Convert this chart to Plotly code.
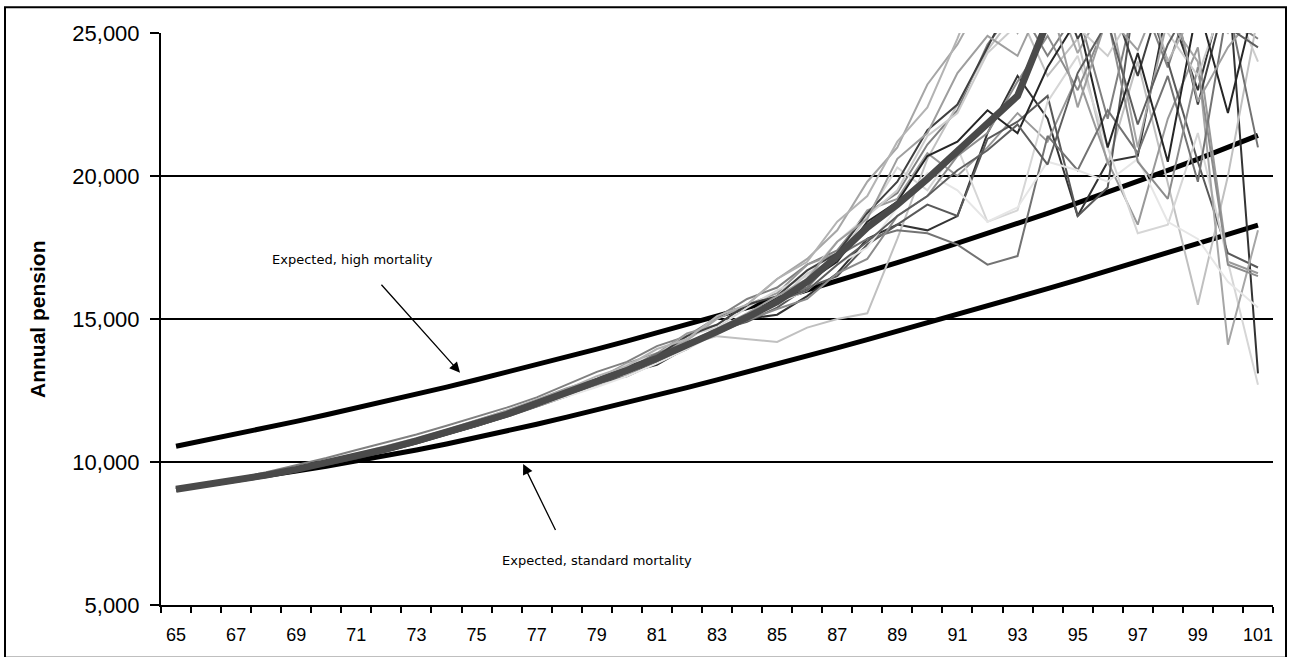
import plotly.graph_objects as go

# ---------------- data ----------------
ages = list(range(65, 102))
tick_ages = ages[::2]

expected_high = [10550, 10760, 10975, 11195, 11420, 11650, 11885, 12125, 12370, 12620,
                 12875, 13135, 13400, 13670, 13945, 14225, 14510, 14800, 15095, 15395,
                 15700, 16010, 16325, 16645, 16970, 17300, 17640, 17985, 18335, 18695,
                 19060, 19430, 19810, 20195, 20590, 21000, 21420]

expected_standard = [9050, 9200, 9355, 9515, 9680, 9850, 10030, 10220, 10420, 10630,
                     10850, 11080, 11320, 11570, 11820, 12080, 12340, 12600, 12870, 13140,
                     13420, 13700, 13990, 14280, 14570, 14860, 15150, 15450, 15750, 16060,
                     16370, 16680, 17000, 17320, 17640, 17960, 18280]

median_path = [9050, 9200, 9360, 9540, 9740, 9960, 10200, 10460, 10740, 11030,
               11330, 11670, 12050, 12420, 12800, 13200, 13630, 14080, 14560, 15060,
               15600, 16300, 17200, 18200, 19000, 19900, 20850, 21800, 22800, 25400,
               27500, 29500, 31500, 33500, 35500, 37500, 39500]

sim_a = [9050, 9230, 9420, 9640, 9880, 10140, 10420, 10680, 10960, 11270, 11580, 11900, 12260,
         12700, 13150, 13500, 14050, 14400, 15050, 15700, 16100, 16900, 17400, 18700, 19400, 21100, 22300, 24600, 26000,
         24200, 25800, 22000, 26500, 23800, 27000, 25500, 24800]
sim_b = [9050, 9180, 9330, 9500, 9690, 9900, 10120, 10370, 10650, 10950, 11260, 11600, 11960,
         12330, 12650, 13120, 13400, 14000, 14700, 15000, 15150, 15800, 16600, 17800, 18300, 18100, 18600, 21500, 23500,
         22000, 18600, 20500, 20700, 26000, 23000, 27000, 13100]
sim_c = [9050, 9210, 9380, 9560, 9760, 9980, 10230, 10500, 10770, 11050, 11340, 11640, 11990,
         12300, 12650, 13050, 13600, 14100, 14400, 14300, 14200, 14700, 15000, 15200, 17800, 20600, 22500, 24400, 25800,
         23500, 24800, 20400, 24000, 19800, 15500, 20000, 25600]
sim_d = [9050, 9200, 9350, 9520, 9720, 9950, 10210, 10490, 10790, 11110, 11450, 11800, 12180,
         12580, 12900, 13450, 13800, 14500, 14800, 15500, 15900, 16900, 17300, 18800, 19200, 20800, 20000, 21000, 22200,
         21200, 23500, 20500, 18300, 22000, 24500, 17000, 16600]
sim_e = [9050, 9190, 9350, 9530, 9720, 9930, 10160, 10410, 10680, 10970, 11260, 11580, 11940,
         12300, 12750, 13000, 13480, 13950, 14600, 14900, 15400, 16100, 16500, 17600, 18300, 19000, 18600, 21300, 21900,
         22800, 18600, 19600, 27000, 24000, 20500, 17300, 16800]
sim_f = [9050, 9220, 9390, 9580, 9790, 10010, 10250, 10520, 10800, 11090, 11380, 11700, 12080,
         12460, 12850, 13400, 13760, 14400, 14700, 15400, 16000, 16500, 17700, 18600, 20300, 19500, 21000, 18400, 18800,
         22600, 24200, 21000, 18000, 18300, 21500, 17000, 12700]
sim_g = [9050, 9210, 9370, 9550, 9760, 9980, 10220, 10470, 10730, 11000, 11290, 11620, 11980,
         12380, 12900, 13200, 13800, 14250, 15000, 15500, 16400, 17100, 18100, 19800, 21000, 23200, 24600, 26500, 25000,
         27000, 24300, 26200, 21000, 25500, 24000, 14100, 18100]
sim_h = [9050, 9190, 9340, 9510, 9700, 9920, 10160, 10420, 10700, 10990, 11300, 11640, 12010,
         12400, 12820, 13250, 13800, 14150, 14650, 15000, 15700, 16100, 17200, 17800, 18100, 18000, 17600, 16900, 17200,
         21400, 20200, 22300, 20800, 23500, 19800, 26000, 21000]
sim_i = [9050, 9200, 9360, 9530, 9720, 9940, 10180, 10440, 10720, 11010, 11310, 11630, 11960,
         12280, 12620, 13000, 13450, 13950, 14500, 15000, 15550, 16000, 16900, 17500, 18900, 20100, 19500, 18400, 18900,
         20500, 20200, 19800, 20600, 18400, 17800, 16300, 15400]
sim_j = [9050, 9200, 9370, 9550, 9760, 9990, 10240, 10500, 10780, 11080, 11380, 11720, 12100,
         12480, 12900, 13330, 13700, 14400, 14800, 15500, 15800, 16700, 17300, 18700, 19800, 21600, 22500, 24500, 26500,
         27500, 24800, 26500, 23500, 27000, 22500, 26500, 25500]
sim_k = [9050, 9220, 9400, 9600, 9810, 10040, 10290, 10550, 10830, 11130, 11450, 11790, 12160,
         12550, 13000, 13350, 13950, 14300, 15100, 15500, 16400, 17000, 18400, 19300, 21200, 22400, 24800, 27500, 26500,
         25500, 27000, 26000, 27500, 24000, 26000, 25000, 26500]
sim_l = [9050, 9190, 9340, 9520, 9720, 9940, 10170, 10420, 10690, 10980, 11280, 11610, 11970,
         12350, 12730, 13130, 13560, 14020, 14500, 14950, 15350, 15700, 16600, 17100, 18600, 19300, 20700, 21500, 23300,
         24900, 23000, 25500, 20500, 19200, 23800, 16900, 16500]
sim_m = [9050, 9210, 9370, 9550, 9750, 9970, 10210, 10470, 10750, 11050, 11360, 11700, 12070,
         12450, 12840, 13250, 13680, 14140, 14620, 15150, 15600, 16600, 17100, 18600, 19500, 21400, 22200, 24300, 25300,
         26800, 25200, 24200, 26000, 25000, 23500, 26500, 24000]
sim_n = [9050, 9200, 9360, 9540, 9740, 9960, 10200, 10460, 10750, 11050, 11350, 11680, 12040,
         12420, 12810, 13220, 13650, 14100, 14580, 15080, 15650, 16300, 17000, 18400, 19100, 20700, 21200, 22300, 21500,
         23800, 25500, 21000, 24300, 20500, 26000, 22200, 26500]
sim_o = [9050, 9210, 9380, 9570, 9780, 10000, 10240, 10500, 10780, 11070, 11370, 11700, 12060,
         12430, 12820, 13230, 13680, 14150, 14650, 15200, 15800, 16400, 17700, 18500, 20600, 21500, 23600, 24900, 24200,
         26500, 22400, 25600, 24400, 27000, 22600, 24500, 25800]
sim_p = [9050, 9190, 9350, 9520, 9710, 9930, 10170, 10430, 10710, 11000, 11310, 11650, 12020,
         12400, 12780, 13190, 13620, 14070, 14560, 15070, 15620, 16000, 16900, 17700, 18600, 19300, 20200, 20900, 21800,
         20400, 23600, 25400, 21800, 24600, 26500, 25200, 24500]

simulations = [sim_a, sim_b, sim_c, sim_d, sim_e, sim_f, sim_g, sim_h,
               sim_i, sim_j, sim_k, sim_l, sim_m, sim_n, sim_o, sim_p]
sim_colors = ["#808080", "#333333", "#c0c0c0", "#999999", "#595959", "#d6d6d6", "#a6a6a6", "#737373",
              "#e6e6e6", "#404040", "#b3b3b3", "#8c8c8c", "#cccccc", "#262626", "#9e9e9e", "#5e5e5e"]

for s in simulations:
    assert len(s) == len(ages), len(s)
for s in (expected_high, expected_standard, median_path):
    assert len(s) == len(ages)

# ---------------- figure ----------------
fig = go.Figure()

fig.add_trace(go.Scatter(x=ages, y=expected_high, mode="lines",
                         line=dict(color="black", width=5), hoverinfo="skip"))
fig.add_trace(go.Scatter(x=ages, y=expected_standard, mode="lines",
                         line=dict(color="black", width=5), hoverinfo="skip"))

for s, c in zip(simulations, sim_colors):
    fig.add_trace(go.Scatter(x=ages, y=s, mode="lines",
                             line=dict(color=c, width=2), hoverinfo="skip"))

fig.add_trace(go.Scatter(x=ages, y=median_path, mode="lines",
                         line=dict(color="#4a4a4a", width=7), hoverinfo="skip"))

L, R, T, B = 161, 17, 33, 48
W, H = 1290, 657
pw, ph = W - L - R, H - T - B

boundaries = [a - 0.5 for a in ages] + [ages[-1] + 0.5]

fig.update_layout(
    width=W, height=H,
    margin=dict(l=L, r=R, t=T, b=B),
    paper_bgcolor="white", plot_bgcolor="white",
    showlegend=False,
    font=dict(family="Liberation Sans, Arial, sans-serif", color="black"),
    xaxis=dict(
        range=[ages[0] - 0.5, ages[-1] + 0.5],
        tickvals=tick_ages, ticktext=[str(a) for a in tick_ages],
        ticks="", showgrid=False, zeroline=False,
        showline=True, linecolor="black", linewidth=2,
        tickfont=dict(size=18, color="black"),
        ticklabelstandoff=12,
        minor=dict(tickvals=boundaries, ticks="outside", ticklen=6,
                   tickwidth=2, tickcolor="black", showgrid=False),
    ),
    yaxis=dict(
        range=[5000, 25000], dtick=5000, tick0=5000,
        tickformat=",", ticks="outside", ticklen=9, tickwidth=2, tickcolor="black",
        showgrid=True, gridcolor="black", gridwidth=1.6,
        zeroline=False, showline=True, linecolor="black", linewidth=2,
        tickfont=dict(size=22, color="black"),
        ticklabelstandoff=6,
    ),
)

# outer frame
fig.add_shape(type="rect", xref="paper", yref="paper",
              x0=(5 - L) / pw, x1=(1286 - L) / pw,
              y0=-(662 - (T + ph)) / ph, y1=1 + (T - 7) / ph,
              line=dict(color="black", width=2), fillcolor="rgba(0,0,0,0)", layer="above")

# y axis title
fig.add_annotation(xref="paper", yref="paper", x=(37 - L) / pw, y=0.5,
                   text="<b>Annual pension</b>", textangle=-90, showarrow=False,
                   font=dict(size=21, color="black", family="Liberation Sans, Arial"),
                   xanchor="center", yanchor="middle")

# labels with arrows
ann_font = dict(size=13, color="black", family="DejaVu Sans")
fig.add_annotation(x=70.86, y=17083, xref="x", yref="y", text="Expected, high mortality",
                   showarrow=False, font=ann_font)
fig.add_annotation(x=79.01, y=6563, xref="x", yref="y", text="Expected, standard mortality",
                   showarrow=False, font=ann_font)
fig.add_annotation(x=74.45, y=13125, ax=71.79, ay=16250, xref="x", yref="y",
                   axref="x", ayref="y", text="", showarrow=True,
                   arrowhead=2, arrowsize=1.6, arrowwidth=1.3, arrowcolor="black")
fig.add_annotation(x=76.55, y=9931, ax=77.65, ay=7569, xref="x", yref="y",
                   axref="x", ayref="y", text="", showarrow=True,
                   arrowhead=2, arrowsize=1.6, arrowwidth=1.3, arrowcolor="black")

fig.write_html("out.html")
